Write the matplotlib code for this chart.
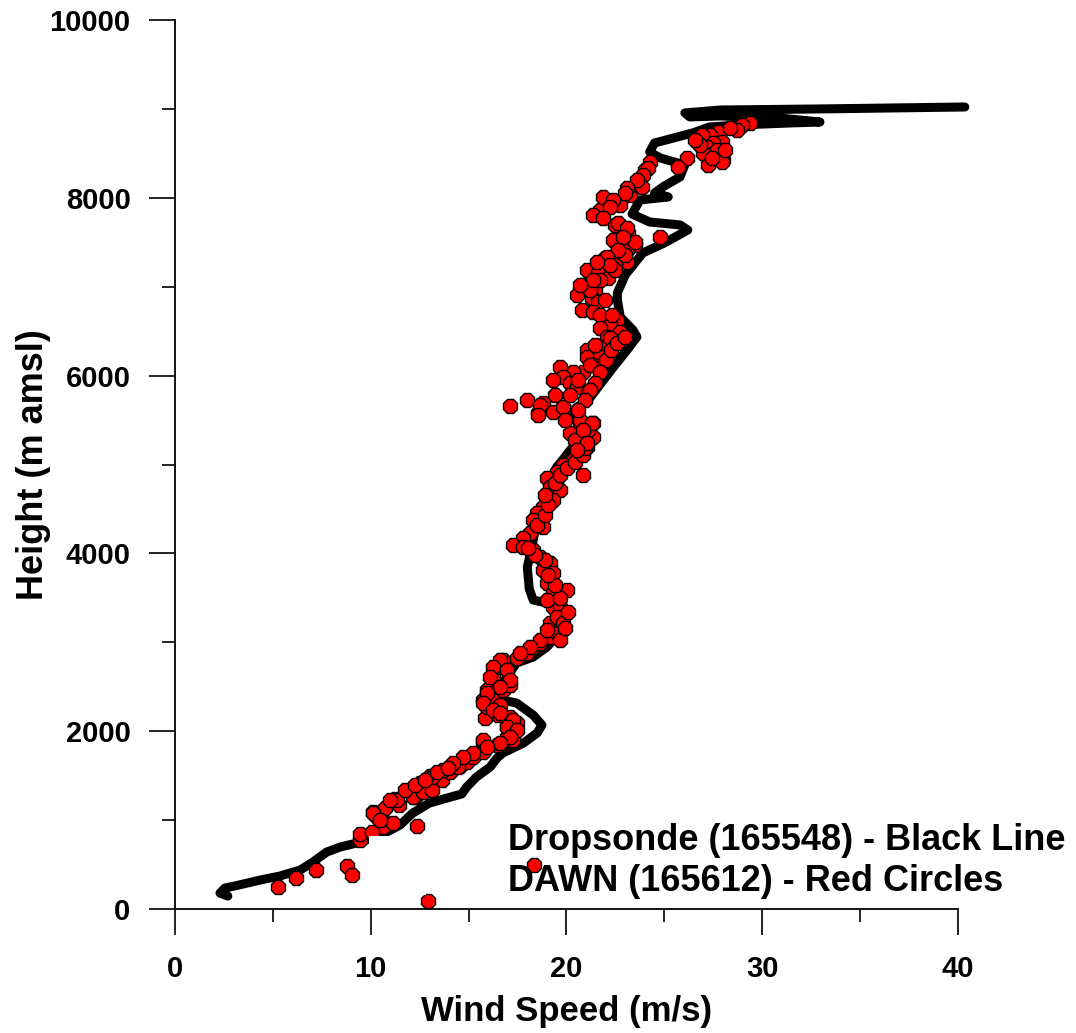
import numpy as np
import matplotlib.pyplot as plt
from matplotlib.patches import Rectangle
from matplotlib.ticker import MultipleLocator

plt.rcParams['font.family'] = ['Liberation Sans', 'DejaVu Sans']
plt.rcParams['font.weight'] = 'bold'

# dropsonde profile (wind speed m/s, height m), bottom to top
sonde_ws = [2.7, 2.3, 2.55, 3.05, 4.35, 5.35, 6.4, 7.05, 7.75, 8.45, 9.3, 10.1, 10.85, 11.5,
            12.15, 13.0, 13.9, 14.65, 14.9, 15.4, 16.1, 16.45, 16.75, 17.8, 18.5, 18.75, 18.3,
            17.45, 16.75, 16.6, 17.45, 18.3, 19.0, 19.8, 20.0, 19.4, 18.3, 18.1, 18.0, 18.2,
            18.4, 18.9, 19.2, 19.5, 19.8, 20.4, 20.85, 20.35, 21.2, 21.7, 22.4, 23.1, 23.6,
            23.4, 22.75, 22.6, 22.6, 23.0, 23.9, 25.0, 26.2, 25.8, 24.25, 23.35, 23.75, 25.2,
            24.5, 25.0, 25.8, 26.05, 24.8, 24.25, 24.5, 26.45, 27.3, 28.85, 31.4, 32.95, 30.9,
            27.85, 26.3, 26.05, 27.85, 32.95, 40.35]
sonde_h = [146, 180, 236, 259, 326, 371, 439, 529, 641, 698, 743, 800, 870, 945,
           1080, 1192, 1249, 1294, 1372, 1485, 1597, 1699, 1755, 1867, 1980, 2070, 2182,
           2317, 2351, 2497, 2767, 2835, 2947, 3139, 3341, 3420, 3476, 3600, 3847, 4039,
           4264, 4545, 4826, 4972, 5051, 5220, 5276, 5614, 5749, 5895, 6097, 6289, 6435,
           6513, 6660, 6851, 6930, 7132, 7380, 7492, 7638, 7695, 7728, 7818, 7976, 8010,
           8055, 8133, 8235, 8370, 8448, 8516, 8617, 8730, 8797, 8820, 8842, 8853, 8898,
           8921, 8910, 8955, 8988, 9000, 9022]

# DAWN lidar retrievals
dawn_ws = [5.26, 6.18, 7.20, 8.79, 9.04, 9.45, 9.45, 10.11, 10.32, 10.57, 10.73, 11.24, 11.44,
           10.63, 11.14, 12.36, 12.26, 12.52, 13.03, 13.03, 13.64, 14.05, 14.56, 14.92, 15.22,
           15.73, 16.45, 10.06, 10.11, 10.47, 11.34, 12.16, 12.67, 13.13, 13.13, 14.46, 15.73,
           16.50, 16.96, 17.27, 17.27, 16.96, 17.47, 17.11, 16.50, 15.84, 15.94, 15.73, 16.25,
           16.60, 16.76, 15.94, 16.25, 17.11, 16.45, 16.76, 17.47, 17.98, 18.29, 18.65, 19.16,
           19.51, 19.77, 19.82, 19.31,
           19.16, 19.51, 18.65, 18.14, 17.62, 16.60, 16.25, 16.96, 16.09, 17.11, 16.60, 15.94,
           15.73, 16.25, 16.60, 17.27, 16.96, 17.47, 17.11, 16.60, 15.73, 15.94, 15.22, 14.71,
           14.20, 13.69, 10.98, 11.75, 12.26, 12.77, 13.38, 13.95,
           21.35, 20.69, 20.18, 21.35, 21.05, 20.69, 20.33, 20.84, 19.82, 19.51, 19.00, 19.16,
           19.67, 19.31, 18.80, 18.49, 18.29, 18.80, 18.14, 17.78, 17.27, 17.78, 18.29, 18.65,
           19.16, 18.80, 19.31, 19.00, 20.03, 19.31, 19.00, 19.67, 19.51, 19.82, 19.00,
           19.67, 19.92, 20.08, 19.67, 19.41, 19.05, 18.90, 18.39, 18.03,
           18.49, 18.90, 19.05, 18.90, 19.41, 19.67, 20.03, 20.43, 20.84, 20.95, 21.10, 20.43,
           23.50, 23.09, 22.58, 23.09, 22.48, 21.97, 21.56, 21.05, 21.61, 22.12, 21.35, 20.84,
           21.46, 20.54, 21.30, 21.61, 20.79, 21.35, 21.71, 22.58, 22.22, 21.71, 22.73, 22.73,
           22.07, 21.71, 21.05, 21.05, 21.71, 21.35, 20.84, 20.33, 19.67, 19.82, 19.31, 20.18,
           20.54, 21.10, 19.41, 18.80, 18.54, 19.31, 19.82, 19.92, 17.98, 20.69, 21.30, 20.84,
           21.05, 20.54, 17.11, 18.65, 18.54,
           20.18, 20.59, 21.20, 21.46, 22.22, 22.35, 21.97, 21.20, 21.71, 22.48, 23.00, 22.38,
           23.14, 22.48, 21.71, 22.73, 23.24, 23.65, 24.01, 24.27,
           22.00, 22.30, 22.60, 23.00, 21.70, 21.46, 21.20, 20.95, 20.60,
           29.37, 28.97, 28.71, 27.74, 27.33, 26.92, 27.94, 27.48, 27.18, 27.69, 26.97, 27.99,
           27.23, 26.16, 25.70, 24.16, 23.91, 23.86, 23.60, 23.09, 22.99, 21.86, 22.38, 22.22,
           21.35, 21.86, 22.63, 23.09, 23.50, 24.78, 22.89, 22.63, 22.07, 22.22, 21.56, 21.35,
           20.69, 27.94, 26.82, 27.43, 28.10, 26.56, 28.35,
           18.35, 12.95]
dawn_h = [247, 349, 439, 484, 382, 776, 844, 1091, 1035, 1001, 1136, 1237, 1170,
          922, 967, 934, 1260, 1417, 1339, 1496, 1451, 1541, 1609, 1654, 1710,
          1766, 1845, 866, 1080, 1001, 1226, 1260, 1316, 1339, 1485, 1597, 1879,
          1845, 1935, 1901, 2014, 2047, 2092, 2160, 2182, 2149, 2272, 2351, 2351,
          2295, 2464, 2464, 2610, 2520, 2722, 2801, 2823, 2880, 2947, 2992, 3060,
          3116, 3217, 3307, 3397,
          3217, 3105, 3026, 2947, 2880, 2801, 2722, 2689, 2610, 2576, 2497, 2430,
          2317, 2239, 2205, 2126, 2047, 2014, 1935, 1867, 1901, 1822, 1755, 1710,
          1642, 1564, 1226, 1339, 1395, 1451, 1541, 1586,
          5467, 5422, 5355, 5310, 5197, 5130, 5051, 4882, 4995, 4916, 4848, 4747,
          4713, 4601, 4522, 4455, 4376, 4297, 4230, 4173, 4095, 4072, 4038, 3960,
          3892, 3813, 3780, 3667, 3588, 3555, 3476, 3397, 3285, 3217, 3138,
          3026, 3161, 3341, 3499, 3645, 3757, 3926, 3982, 4061,
          4320, 4432, 4545, 4657, 4792, 4882, 4961, 5028, 5107, 5186, 5388, 5276,
          7469, 7413, 7379, 7278, 7244, 7323, 7222, 7188, 7154, 7098, 7053, 7019,
          6963, 6907, 6873, 6828, 6738, 6716, 6682, 6626, 6569, 6536, 6491, 6378,
          6434, 6322, 6288, 6209, 6209, 6119, 6041, 6041, 6097, 5984, 5951, 5917,
          5872, 5816, 5782, 5692, 5580, 5591, 5647, 5501, 5726, 5501, 5467, 5388,
          5242, 5163, 5658, 5669, 5557,
          5782, 5951, 6119, 6345, 6423, 6682, 6851, 6963, 7076, 7188, 7357, 7526,
          7604, 7695, 7863, 7919, 8032, 8144, 8313, 8403,
          6176, 6288, 6367, 6435, 6041, 5917, 5838, 5726, 5613,
          8842, 8819, 8763, 8740, 8707, 8707, 8628, 8617, 8572, 8538, 8504, 8425,
          8369, 8448, 8347, 8336, 8257, 8122, 8201, 8111, 8054, 8009, 7976, 7897,
          7807, 7773, 7717, 7661, 7503, 7559, 7559, 7413, 7334, 7244, 7278, 7076,
          7019, 8403, 8594, 8448, 8538, 8650, 8785,
          490, 90]

fig = plt.figure(figsize=(10.76, 10.33), dpi=100)
ax = fig.add_axes([0.1626, 0.12, 0.7277, 0.8606])

ax.plot(sonde_ws, sonde_h, color='black', lw=6.5, solid_capstyle='round',
        solid_joinstyle='round', clip_on=False, zorder=1)
ax.plot(dawn_ws, dawn_h, ls='none', marker='8', ms=11, mfc='#ff0000', mec='black',
        mew=1.0, zorder=2)
# blank patch present in the original
ax.add_patch(Rectangle((9.9, 160), 2.95, 660, facecolor='white', edgecolor='none', zorder=3))

ax.text(17.0, 664, 'Dropsonde (165548) - Black Line', fontsize=26, fontweight='bold',
        va='baseline', clip_on=False, zorder=5)
ax.text(17.0, 202, 'DAWN (165612) - Red Circles', fontsize=26, fontweight='bold',
        va='baseline', clip_on=False, zorder=5)

ax.set_xlim(0, 40)
ax.set_ylim(0, 10000)
ax.xaxis.set_major_locator(MultipleLocator(10))
ax.xaxis.set_minor_locator(MultipleLocator(5))
ax.yaxis.set_major_locator(MultipleLocator(2000))
ax.yaxis.set_minor_locator(MultipleLocator(1000))
ax.tick_params(which='major', direction='out', length=19, width=1.2, labelsize=21)
ax.tick_params(which='minor', direction='out', length=9.5, width=1.2)
ax.tick_params(axis='y', which='major', pad=13)
ax.tick_params(axis='x', which='major', pad=14)
for lab in ax.get_xticklabels() + ax.get_yticklabels():
    lab.set_fontweight('bold')

ax.spines['top'].set_visible(False)
ax.spines['right'].set_visible(False)
ax.spines['left'].set_linewidth(1.3)
ax.spines['bottom'].set_linewidth(1.3)

ax.set_xlabel('Wind Speed (m/s)', fontsize=25, fontweight='bold', labelpad=9)
ax.set_ylabel('Height (m amsl)', fontsize=26, fontweight='bold', labelpad=-1)

fig.savefig('out.png', dpi=100)
